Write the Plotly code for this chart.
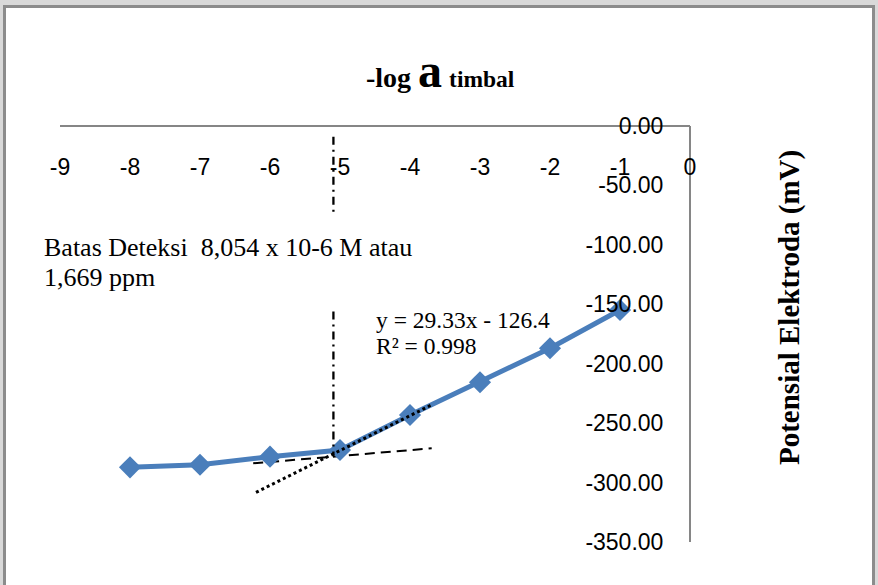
import math
import plotly.graph_objects as go

# ---- data ----
neg_log_a = [-8, -7, -6, -5, -4, -3, -2, -1]
potential_mv = [-287.2, -285.0, -278.2, -272.6, -243.1, -215.6, -187.0, -154.8]

slope = 29.33
intercept = -126.4
trend_x = [-6.2, -3.7]

lowfit_x = [-6.24, -3.69]
lowfit_y = [-283.8, -271.2]

det_limit_molar = 8.054e-6
det_x = math.log10(det_limit_molar)
det_upper_y = [-9, -75]
det_lower_y = [-156, -278]

x_ticks = [-9, -8, -7, -6, -5, -4, -3, -2, -1, 0]
x_ticktext = ["-9", "-8", "-7", "-6", "-5", "-4", "-3", "-2", "-1", "0"]
y_ticks = [0, -50, -100, -150, -200, -250, -300, -350]
y_ticktext = ["0.00", "-50.00", "-100.00", "-150.00", "-200.00", "-250.00", "-300.00", "-350.00"]

W, H = 878, 585
L, R, T, B = 60, 690, 126, 542


def px(xp):
    return (xp - L) / (R - L)


def py(yp):
    return (B - yp) / (B - T)


fig = go.Figure()

fig.add_trace(go.Scatter(x=lowfit_x, y=lowfit_y, mode="lines",
                         line=dict(color="black", width=2, dash="10px,6px"),
                         hoverinfo="skip", showlegend=False))

fig.add_trace(go.Scatter(x=neg_log_a, y=potential_mv, mode="lines+markers",
                         line=dict(color="#4a7ebb", width=5),
                         marker=dict(symbol="diamond", size=17, color="#4a7ebb"),
                         showlegend=False))

trend_y = [slope * v + intercept for v in trend_x]
fig.add_trace(go.Scatter(x=trend_x, y=trend_y, mode="lines",
                         line=dict(color="black", width=3, dash="3px,3px"),
                         hoverinfo="skip", showlegend=False))

fig.add_trace(go.Scatter(x=[det_x, det_x, None, det_x, det_x],
                         y=det_upper_y + [None] + det_lower_y, mode="lines",
                         line=dict(color="black", width=2.3, dash="8px,5px,2px,5px"),
                         hoverinfo="skip", showlegend=False))

tick_font = dict(family="Liberation Sans, Arial, sans-serif", size=23, color="black")
serif = "Liberation Serif, Times New Roman, serif"

fig.update_layout(
    width=W, height=H,
    margin=dict(l=L, r=W - R, t=T, b=H - B, pad=0),
    paper_bgcolor="#d9d9d9",
    plot_bgcolor="rgba(0,0,0,0)",
    xaxis=dict(range=[-9, 0], tickvals=x_ticks, ticktext=x_ticktext,
               side="bottom", anchor="free", position=1, ticklabelstandoff=20,
               showline=True, linecolor="#868686", linewidth=2,
               showgrid=False, zeroline=False, ticks="", tickfont=tick_font),
    yaxis=dict(range=[-350, 0], tickvals=y_ticks, ticktext=y_ticktext,
               side="left", anchor="free", position=1, ticklabelstandoff=21,
               showline=True, linecolor="#868686", linewidth=2,
               showgrid=False, zeroline=False, ticks="", tickfont=tick_font),
    shapes=[dict(type="rect", xref="paper", yref="paper", layer="below",
                 x0=px(4.5), x1=px(873.5), y0=py(610), y1=py(6.5),
                 fillcolor="white", line=dict(color="#8c8c8c", width=3))],
    annotations=[
        dict(xref="paper", yref="paper", x=px(440.5), y=py(71), xanchor="center", yanchor="middle",
             text="<b>-log <span style='font-size:48px'>a</span> <span style='font-size:23.5px'>timbal</span></b>",
             showarrow=False, font=dict(family=serif, size=28, color="black")),
        dict(xref="paper", yref="paper", x=px(789), y=py(308), xanchor="center", yanchor="middle",
             text="<b>Potensial Elektroda (mV)</b>", textangle=-90,
             showarrow=False, font=dict(family=serif, size=29, color="black")),
        dict(xref="paper", yref="paper", x=px(42), y=py(247), xanchor="left", yanchor="middle",
             text="Batas Deteksi  8,054 x 10-6 M atau",
             showarrow=False, font=dict(family=serif, size=26, color="black")),
        dict(xref="paper", yref="paper", x=px(42), y=py(277), xanchor="left", yanchor="middle",
             text="1,669 ppm",
             showarrow=False, font=dict(family=serif, size=26, color="black")),
        dict(xref="paper", yref="paper", x=px(374), y=py(320), xanchor="left", yanchor="middle",
             text="y = 29.33x - 126.4",
             showarrow=False, font=dict(family=serif, size=23.5, color="black")),
        dict(xref="paper", yref="paper", x=px(374), y=py(346), xanchor="left", yanchor="middle",
             text="R² = 0.998",
             showarrow=False, font=dict(family=serif, size=23.5, color="black")),
    ],
)

fig.write_html("out.html", config={"displayModeBar": False},
               post_script="document.body.style.margin='0px';")
